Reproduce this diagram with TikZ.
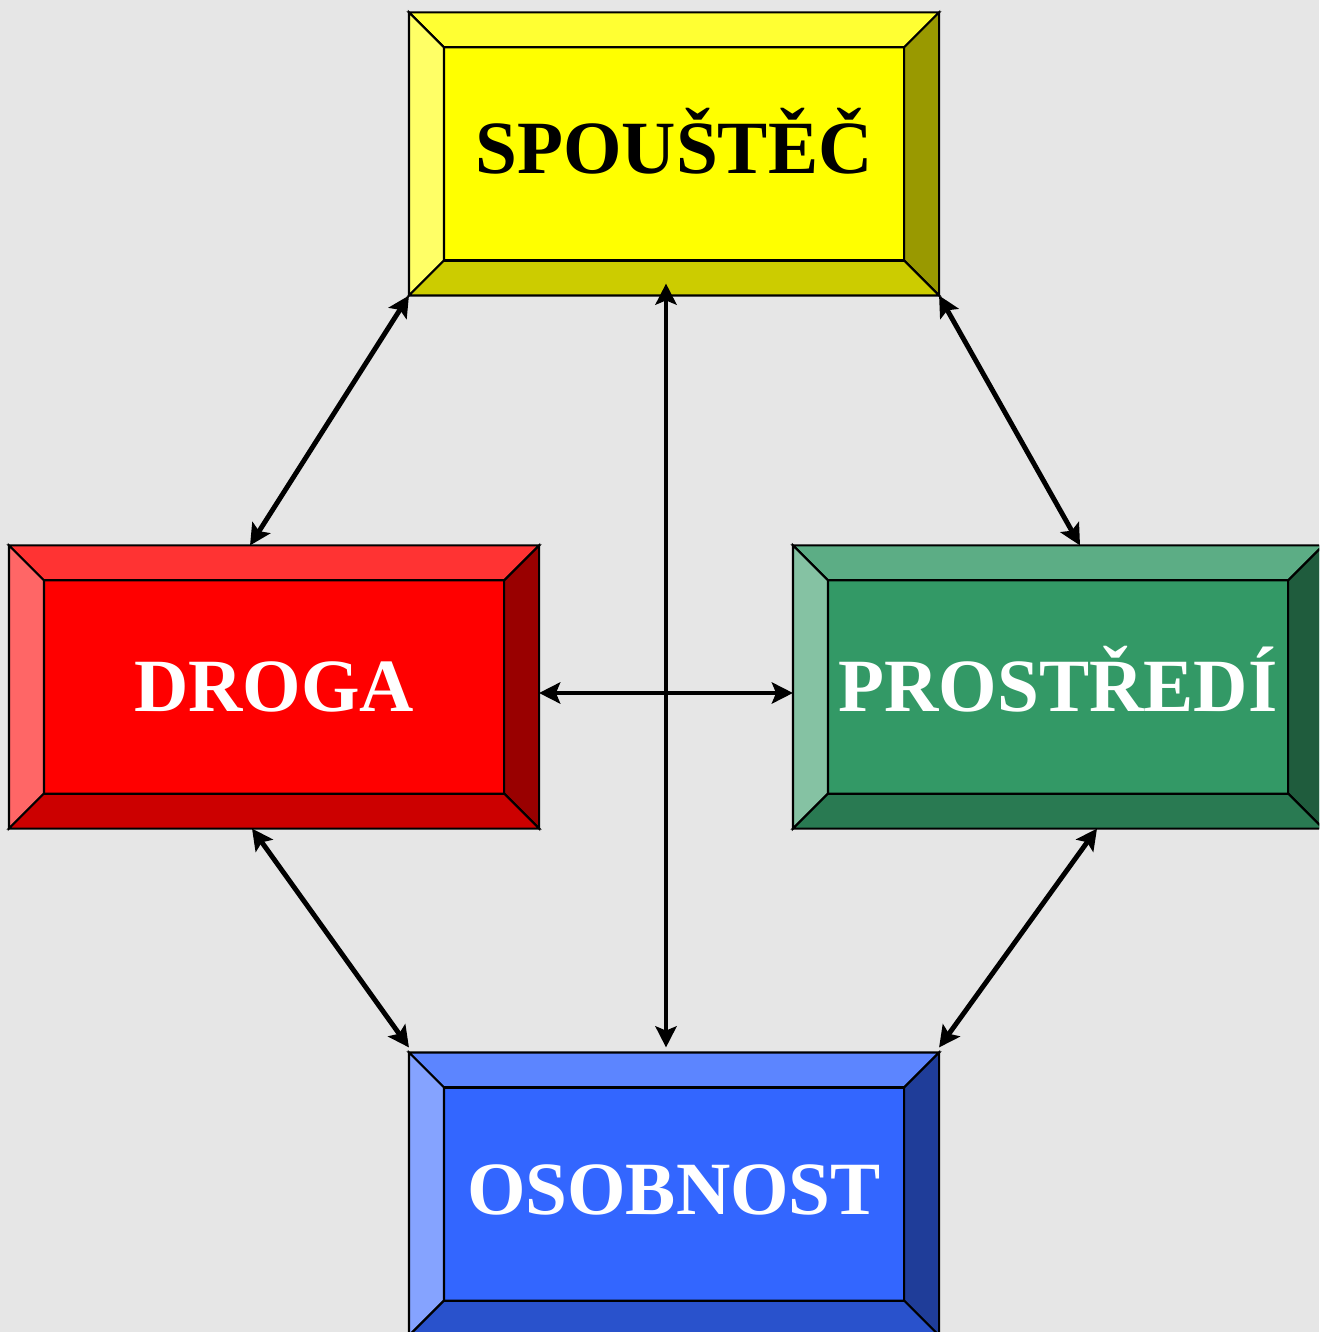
\documentclass[tikz,border=0pt]{standalone}
\usepackage{fontspec}
\setmainfont{Liberation Serif}
\usetikzlibrary{arrows.meta}

\definecolor{bgstone}{HTML}{E6E6E6}
\definecolor{yface}{HTML}{FFFF00}
\definecolor{ytop}{HTML}{FFFF33}
\definecolor{yleft}{HTML}{FFFF66}
\definecolor{yright}{HTML}{999900}
\definecolor{ybot}{HTML}{CCCC00}
\definecolor{rface}{HTML}{FF0000}
\definecolor{rtop}{HTML}{FF3333}
\definecolor{rleft}{HTML}{FF6666}
\definecolor{rright}{HTML}{990000}
\definecolor{rbot}{HTML}{CC0000}
\definecolor{gface}{HTML}{339966}
\definecolor{gtop}{HTML}{5CAD85}
\definecolor{gleft}{HTML}{85C2A3}
\definecolor{gright}{HTML}{1F5C3D}
\definecolor{gbot}{HTML}{297A52}
\definecolor{bface}{HTML}{3366FF}
\definecolor{btop}{HTML}{5C85FF}
\definecolor{bleft}{HTML}{85A3FF}
\definecolor{bright}{HTML}{1F3D99}
\definecolor{bbot}{HTML}{2952CC}

\newcommand{\bv}{0.35}
% bevel edges of a box: name, top, left, right, bottom
\newcommand{\bevels}[5]{%
  \filldraw[fill=#2] (#1.north west) -- (#1.north east) -- ([shift={(-\bv,-\bv)}]#1.north east) -- ([shift={(\bv,-\bv)}]#1.north west) -- cycle;
  \filldraw[fill=#3] (#1.north west) -- (#1.south west) -- ([shift={(\bv,\bv)}]#1.south west) -- ([shift={(\bv,-\bv)}]#1.north west) -- cycle;
  \filldraw[fill=#4] (#1.north east) -- (#1.south east) -- ([shift={(-\bv,\bv)}]#1.south east) -- ([shift={(-\bv,-\bv)}]#1.north east) -- cycle;
  \filldraw[fill=#5] (#1.south west) -- (#1.south east) -- ([shift={(-\bv,\bv)}]#1.south east) -- ([shift={(\bv,\bv)}]#1.south west) -- cycle;
}

\tikzset{
  box/.style={draw=black, line width=0.6pt, minimum width=5.28cm, minimum height=2.81cm,
    inner sep=0pt, text height=0.50cm, text depth=0pt,
    font=\fontsize{21.4pt}{25pt}\selectfont\bfseries},
  link/.style={{Stealth[length=6pt,width=6pt,inset=1.2pt]}-{Stealth[length=6pt,width=6pt,inset=1.2pt]}, line width=1.4pt}
}

\begin{document}
\begin{tikzpicture}[line width=0.6pt]
  \useasboundingbox (0,0) rectangle (13.19,-13.32);
  \clip (0,0) rectangle (13.19,-13.32);
  \fill[bgstone] (0,0) rectangle (13.19,-13.32);

  \node[box, fill=yface, text=black, text depth=0.1cm] (spoustec) at (6.74,-1.54) {SPOUŠTĚČ};
  \node[box, fill=rface, text=white] (droga) at (2.74,-6.87) {DROGA};
  \node[box, fill=gface, text=white] (prostredi) at (10.58,-6.87) {PROSTŘEDÍ};
  \node[box, fill=bface, text=white, text depth=0.1cm] (osobnost) at (6.74,-11.94) {OSOBNOST};

  \bevels{spoustec}{ytop}{yleft}{yright}{ybot}
  \bevels{droga}{rtop}{rleft}{rright}{rbot}
  \bevels{prostredi}{gtop}{gleft}{gright}{gbot}
  \bevels{osobnost}{btop}{bleft}{bright}{bbot}

  % inner faces
  \foreach \n in {spoustec, droga, prostredi, osobnost}
    \draw ([shift={(\bv,\bv)}]\n.south west) rectangle ([shift={(-\bv,-\bv)}]\n.north east);

  \draw[link] (spoustec.south west) -- ([xshift=-0.24cm]droga.north);
  \draw[link] (spoustec.south east) -- ([xshift=0.22cm]prostredi.north);
  \draw[link] ([xshift=-0.08cm,yshift=0.12cm]spoustec.south) -- ([xshift=-0.08cm,yshift=0.05cm]osobnost.north);
  \draw[link] ([yshift=-0.06cm]droga.east) -- ([yshift=-0.06cm]prostredi.west);
  \draw[link] ([xshift=-0.22cm]droga.south) -- ([yshift=0.05cm]osobnost.north west);
  \draw[link] ([xshift=0.39cm]prostredi.south) -- ([yshift=0.05cm]osobnost.north east);
\end{tikzpicture}
\end{document}
